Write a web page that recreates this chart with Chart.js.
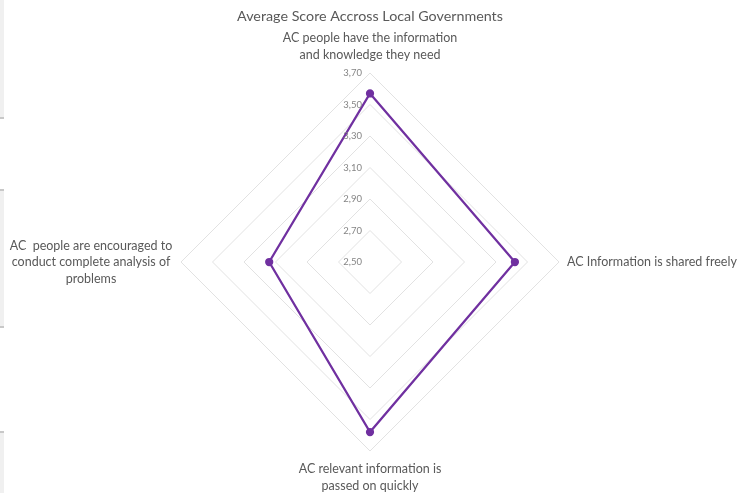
<!DOCTYPE html>
<html>
<head>
<meta charset="utf-8">
<script src="https://cdn.jsdelivr.net/npm/chart.js@4/dist/chart.umd.min.js"></script>
<style>
  html, body { margin: 0; padding: 0; background: #fff; }
  #wrap { position: relative; width: 752px; height: 493px; }
  /* sheet edge strip on the left */
  #edge {
    position: absolute; left: 0; top: 0; width: 4px; height: 493px;
    background: linear-gradient(to bottom,
      #f0f0f0 0, #f0f0f0 117px, #c8c8c8 117px, #c8c8c8 119px, #fff 119px,
      #fff 189px, #c8c8c8 189px, #c8c8c8 191px, #f0f0f0 191px,
      #f0f0f0 326px, #c8c8c8 326px, #c8c8c8 328px, #fff 328px,
      #fff 431px, #c8c8c8 431px, #c8c8c8 433px, #f0f0f0 433px);
  }
  canvas { position: absolute; left: 0; top: 0; }
</style>
</head>
<body>
<div id="wrap">
  <div id="edge"></div>
  <canvas id="radar" width="752" height="493"></canvas>
</div>
<script>
// axis labels, one entry per spoke (clockwise from the top)
const categories = [
  ['AC people have the information', 'and knowledge they need'],
  ['AC Information is shared freely'],
  ['AC relevant information is', 'passed on quickly'],
  ['AC  people are encouraged to', 'conduct complete analysis of', 'problems']
];
const averageScores = [3.57, 3.42, 3.58, 3.14];
const tickValues = [2.50, 2.70, 2.90, 3.10, 3.30, 3.50, 3.70];

const FONT = 'Lato, "Open Sans", sans-serif';
const LABEL_COLOR = '#595959';

const fmt = v => v.toFixed(2).replace('.', ',');

// draws spoke labels and the value labels (including the centre one)
const radarText = {
  id: 'radarText',
  afterDatasetsDraw(chart) {
    const scale = chart.scales.r;
    const ctx = chart.ctx;
    ctx.save();

    // tick values, left of the top spoke
    ctx.font = '9.5px ' + FONT;
    ctx.fillStyle = '#858585';
    ctx.textAlign = 'right';
    ctx.textBaseline = 'middle';
    tickValues.forEach(v => {
      const d = scale.getDistanceFromCenterForValue(v);
      ctx.fillText(fmt(v), scale.xCenter - 8, scale.yCenter - d);
    });

    // spoke labels
    ctx.font = '12.5px ' + FONT;
    ctx.fillStyle = LABEL_COLOR;
    const lh = 16.5;
    categories.forEach((lines, i) => {
      const p = scale.getPointPosition(i, scale.drawingArea + 10);
      const n = lines.length;
      lines.forEach((line, j) => {
        let x = p.x, y;
        if (i === 0) {
          ctx.textAlign = 'center';
          y = p.y - (n - j - 0.5) * lh;
        } else if (i === 2) {
          ctx.textAlign = 'center';
          y = p.y + (j + 0.5) * lh;
        } else if (i === 1) {
          ctx.textAlign = 'left';
          x = p.x - 2;
          y = p.y + (j - (n - 1) / 2) * lh;
        } else {
          ctx.textAlign = 'center';
          x = p.x - 80;
          y = p.y + (j - (n - 1) / 2) * lh;
        }
        ctx.fillText(line, x, y);
      });
    });
    ctx.restore();
  }
};

new Chart(document.getElementById('radar'), {
  type: 'radar',
  data: {
    labels: categories,
    datasets: [{
      label: 'Average Score',
      data: averageScores,
      borderColor: '#7030a0',
      backgroundColor: '#7030a0',
      pointBackgroundColor: '#7030a0',
      pointBorderColor: '#7030a0',
      borderWidth: 2.25,
      pointRadius: 3,
      fill: false
    }]
  },
  options: {
    responsive: false,
    animation: false,
    layout: { padding: { left: 180, right: 192, top: 0, bottom: 41 } },
    plugins: {
      legend: { display: false },
      tooltip: { enabled: false },
      title: {
        display: true,
        text: 'Average Score Accross Local Governments',
        color: LABEL_COLOR,
        font: { family: FONT, size: 14.3, weight: 'normal' },
        padding: { top: 8, bottom: 47 }
      }
    },
    scales: {
      r: {
        min: 2.5,
        max: 3.7,
        ticks: { stepSize: 0.2, display: false },
        grid: { color: '#e2e2e2', lineWidth: 1 },
        angleLines: { display: false },
        pointLabels: { display: false }
      }
    }
  },
  plugins: [radarText]
});
</script>
</body>
</html>
